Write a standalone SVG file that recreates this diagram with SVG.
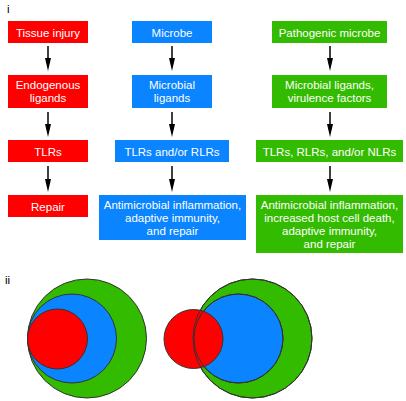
<svg xmlns="http://www.w3.org/2000/svg" width="406" height="401" viewBox="0 0 406 401">
<style>
text{font-family:"Liberation Sans",Arial,sans-serif;font-size:11.5px;text-anchor:middle;fill:#fff}
text.lbl{fill:#000;text-anchor:start}
.r{fill:#ff0000}.b{fill:#0a84ff}.g{fill:#33bb00}
.ln{stroke:#000;stroke-width:1.5;fill:none}
.hd{fill:#000}
.c{stroke:#333;stroke-width:1}
.o{fill:none;stroke:#333;stroke-width:1}
</style>
<text class="lbl" x="7" y="13">i</text>
<text class="lbl" x="5" y="284">ii</text>

<g id="red1"><rect class="r" x="8" y="21" width="80" height="22"/><text x="48" y="36.5">Tissue injury</text></g>
<g id="red2"><rect class="r" x="8" y="75" width="80" height="33"/><text x="48" y="89.2">Endogenous</text><text x="48" y="102.2">ligands</text></g>
<g id="red3"><rect class="r" x="8" y="140" width="80" height="22"/><text x="48" y="155.5">TLRs</text></g>
<g id="red4"><rect class="r" x="8" y="195" width="80" height="22"/><text x="48" y="210.5">Repair</text></g>

<g id="blue1"><rect class="b" x="132" y="21" width="80" height="22"/><text x="172" y="36.5">Microbe</text></g>
<g id="blue2"><rect class="b" x="132" y="75" width="80" height="33"/><text x="172" y="89.2">Microbial</text><text x="172" y="102.2">ligands</text></g>
<g id="blue3"><rect class="b" x="115" y="140" width="114" height="22"/><text x="172" y="155.5">TLRs and/or RLRs</text></g>
<g id="blue4"><rect class="b" x="99" y="195" width="147" height="45"/><text x="172.5" y="208.7">Antimicrobial inflammation,</text><text x="172.5" y="221.7">adaptive immunity,</text><text x="172.5" y="234.7">and repair</text></g>

<g id="green1"><rect class="g" x="272" y="21" width="115" height="22"/><text x="329.5" y="36.5">Pathogenic microbe</text></g>
<g id="green2"><rect class="g" x="272" y="75" width="115" height="33"/><text x="329.5" y="89.2">Microbial ligands,</text><text x="329.5" y="102.2">virulence factors</text></g>
<g id="green3"><rect class="g" x="256" y="140" width="147" height="22"/><text x="329.5" y="155.5">TLRs, RLRs, and/or NLRs</text></g>
<g id="green4"><rect class="g" x="256" y="195" width="147" height="58"/><text x="329.5" y="208.7">Antimicrobial inflammation,</text><text x="329.5" y="221.7">increased host cell death,</text><text x="329.5" y="234.7">adaptive immunity,</text><text x="329.5" y="247.7">and repair</text></g>

<g id="connectors">
<path class="ln" d="M48,46 V60.5"/><path class="hd" d="M45,58 L51,58 L48,71 Z"/>
<path class="ln" d="M48,112 V126"/><path class="hd" d="M45,124 L51,124 L48,137 Z"/>
<path class="ln" d="M48,166 V181"/><path class="hd" d="M45,179 L51,179 L48,192 Z"/>
<path class="ln" d="M172,46 V60.5"/><path class="hd" d="M169,58 L175,58 L172,71 Z"/>
<path class="ln" d="M172,112 V126"/><path class="hd" d="M169,124 L175,124 L172,137 Z"/>
<path class="ln" d="M172,166 V181"/><path class="hd" d="M169,179 L175,179 L172,192 Z"/>
<path class="ln" d="M330,46 V60.5"/><path class="hd" d="M327,58 L333,58 L330,71 Z"/>
<path class="ln" d="M330,112 V126"/><path class="hd" d="M327,124 L333,124 L330,137 Z"/>
<path class="ln" d="M330,166 V181"/><path class="hd" d="M327,179 L333,179 L330,192 Z"/>
</g>

<g id="venn1">
<circle class="g c" cx="87" cy="338.5" r="59.5"/>
<circle class="b c" cx="72" cy="338.5" r="44.5"/>
<circle class="r c" cx="57.5" cy="339" r="30"/>
</g>
<g id="venn2">
<circle class="g c" cx="252.5" cy="338.5" r="59.5"/>
<circle class="b c" cx="238.5" cy="338.5" r="44.5"/>
<circle class="r c" cx="193.5" cy="339" r="29.5"/>
<circle class="o" cx="252.5" cy="338.5" r="59.5"/>
<circle class="o" cx="238.5" cy="338.5" r="44.5"/>
</g>
</svg>
